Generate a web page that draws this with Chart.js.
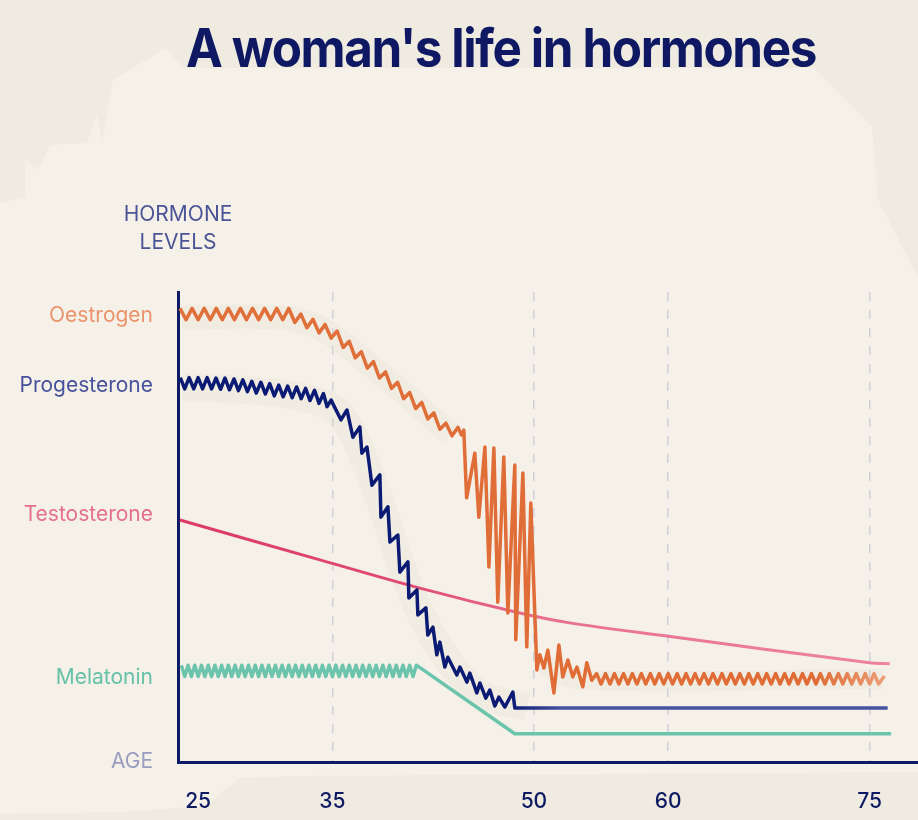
<!DOCTYPE html>
<html>
<head>
<meta charset="utf-8">
<script src="https://cdn.jsdelivr.net/npm/chart.js@4.4.1/dist/chart.umd.min.js"></script>
<style>
  html, body { margin: 0; padding: 0; background: #efebe0; }
  #wrap { position: relative; width: 918px; height: 820px; }
</style>
</head>
<body>
<div id="wrap"><canvas id="chart"></canvas></div>
<script>
const titleText = "A woman's life in hormones";
const ageTicks = [25, 35, 50, 60, 75];
const levelTicks = [0, 17.9, 52.6, 80, 94.9];
const levelNames = ["AGE", "Melatonin", "Testosterone", "Progesterone", "Oestrogen"];
const levelColors = ["#9a9cc0", "#66c1a8", "#e56f8f", "#47519c", "#ea936b"];

// [age, level]
const oestrogen = [
  [23.65, 96.5], [24.1, 94.1], [24.55, 96.5], [25, 94.1], [25.45, 96.5], [25.9, 94.1],
  [26.35, 96.5], [26.8, 94.1], [27.25, 96.5], [27.7, 94.1], [28.15, 96.5], [28.6, 94.1],
  [29.05, 96.5], [29.5, 94.1], [29.95, 96.5], [30.4, 94.1], [30.85, 96.5], [31.3, 94.1],
  [31.75, 96.5], [32.2, 93.5], [32.65, 95.3], [33.1, 92.4], [33.55, 94.2], [34, 91.3],
  [34.45, 93.1], [34.9, 90.2], [35.35, 91.7], [35.8, 88.2], [36.25, 89.5], [36.7, 86.0],
  [37.15, 87.3], [37.6, 83.8], [38.05, 85.2], [38.5, 81.7], [38.95, 83.0], [39.4, 79.5],
  [39.85, 80.8], [40.3, 77.3], [40.75, 78.6], [41.2, 75.2], [41.65, 76.5], [42.1, 73.0],
  [42.55, 74.3], [43, 70.8], [43.45, 72.1], [43.9, 69.4], [44.35, 71.2], [44.6, 69.6],
  [44.78, 70.6], [44.99, 56.2], [45.6, 65.7], [45.9, 52.1], [46.35, 67.0], [46.65, 41.5],
  [47.02, 66.8], [47.31, 34.0], [47.76, 64.9], [48.06, 31.7], [48.58, 63.2], [48.65, 26.0],
  [49.18, 61.5], [49.47, 24.5], [49.77, 55.1], [50.22, 19.6], [50.44, 22.8], [50.74, 20.0],
  [51.04, 23.8], [51.49, 14.7], [51.86, 24.9], [52.15, 18.1], [52.53, 21.7], [52.9, 18.1],
  [53.2, 20.2], [53.64, 16.0], [53.94, 21.1], [54.31, 17.4],
  [54.67, 18.8], [55, 16.6], [55.33, 18.8], [55.67, 16.6], [56, 18.8], [56.33, 16.6],
  [56.67, 18.8], [57, 16.6], [57.33, 18.8], [57.67, 16.6], [58, 18.8], [58.33, 16.6],
  [58.67, 18.8], [59, 16.6], [59.33, 18.8], [59.67, 16.6], [60, 18.8], [60.33, 16.6],
  [60.67, 18.8], [61, 16.6], [61.33, 18.8], [61.67, 16.6], [62, 18.8], [62.33, 16.6],
  [62.67, 18.8], [63, 16.6], [63.33, 18.8], [63.67, 16.6], [64, 18.8], [64.33, 16.6],
  [64.67, 18.8], [65, 16.6], [65.33, 18.8], [65.67, 16.6], [66, 18.8], [66.33, 16.6],
  [66.67, 18.8], [67, 16.6], [67.33, 18.8], [67.67, 16.6], [68, 18.8], [68.33, 16.6],
  [68.67, 18.8], [69, 16.6], [69.33, 18.8], [69.67, 16.6], [70, 18.8], [70.33, 16.6],
  [70.67, 18.8], [71, 16.6], [71.33, 18.8], [71.67, 16.6], [72, 18.8], [72.33, 16.6],
  [72.67, 18.8], [73, 16.6], [73.33, 18.8], [73.67, 16.6], [74, 18.8], [74.33, 16.6],
  [74.67, 18.8], [75, 16.6], [75.33, 18.8], [75.67, 16.6], [76.1, 18.3],
];

const progesterone = [
  [23.67, 81.8], [24, 79.4], [24.33, 81.8], [24.67, 79.4], [25, 81.8], [25.33, 79.4],
  [25.67, 81.8], [26, 79.4], [26.33, 81.7], [26.67, 79.3], [27, 81.7], [27.33, 79.2],
  [27.67, 81.5], [28, 79.0], [28.33, 81.3], [28.67, 78.8], [29, 81.0], [29.33, 78.5],
  [29.67, 80.8], [30, 78.3], [30.33, 80.5], [30.67, 77.9], [31, 80.2], [31.33, 77.7],
  [31.67, 80.0], [32, 77.5], [32.33, 79.8], [32.67, 77.3], [33, 79.5], [33.33, 76.9],
  [33.67, 79.1], [34, 76.3], [34.33, 78.4], [34.6, 75.6], [34.9, 77.0],
  [35.63, 72.8], [36.08, 74.9], [36.52, 69.1], [37.04, 71.3], [37.19, 65.7], [37.57, 67.0],
  [37.94, 58.9], [38.53, 61.1], [38.61, 52.1], [39.13, 54.3], [39.28, 46.8], [39.87, 48.3],
  [40.02, 40.4], [40.62, 42.6], [40.69, 34.9], [41.29, 36.6], [41.36, 31.3], [41.96, 32.8],
  [42.1, 27.0], [42.48, 28.7], [42.77, 22.8], [43, 25.5], [43.37, 20.2], [43.59, 22.3],
  [44.26, 18.5], [44.49, 20.2], [45.01, 17.0], [45.23, 18.9], [45.75, 14.7], [45.98, 16.8],
  [46.42, 13.6], [46.72, 15.3], [47.09, 11.9], [47.39, 13.8], [47.84, 11.7], [48.43, 14.9],
  [48.58, 11.5], [76.34, 11.5],
];

const testosterone = [
  [23.64, 51.5], [34.07, 43.0], [41.51, 37.0], [48.95, 31.7], [52.67, 29.6],
  [59.89, 26.8], [75.0, 21.1], [76.49, 20.9],
];

const melatonin = [
  [23.75, 20.6], [24, 18.2], [24.25, 20.6], [24.5, 18.2], [24.75, 20.6], [25, 18.2],
  [25.25, 20.6], [25.5, 18.2], [25.75, 20.6], [26, 18.2], [26.25, 20.6], [26.5, 18.2],
  [26.75, 20.6], [27, 18.2], [27.25, 20.6], [27.5, 18.2], [27.75, 20.6], [28, 18.2],
  [28.25, 20.6], [28.5, 18.2], [28.75, 20.6], [29, 18.2], [29.25, 20.6], [29.5, 18.2],
  [29.75, 20.6], [30, 18.2], [30.25, 20.6], [30.5, 18.2], [30.75, 20.6], [31, 18.2],
  [31.25, 20.6], [31.5, 18.2], [31.75, 20.6], [32, 18.2], [32.25, 20.6], [32.5, 18.2],
  [32.75, 20.6], [33, 18.2], [33.25, 20.6], [33.5, 18.2], [33.75, 20.6], [34, 18.2],
  [34.25, 20.6], [34.5, 18.2], [34.75, 20.6], [35, 18.2], [35.25, 20.6], [35.5, 18.2],
  [35.75, 20.6], [36, 18.2], [36.25, 20.6], [36.5, 18.2], [36.75, 20.6], [37, 18.2],
  [37.25, 20.6], [37.5, 18.2], [37.75, 20.6], [38, 18.2], [38.25, 20.6], [38.5, 18.2],
  [38.75, 20.6], [39, 18.2], [39.25, 20.6], [39.5, 18.2], [39.75, 20.6], [40, 18.2],
  [40.25, 20.6], [40.5, 18.2], [40.75, 20.6], [41, 18.2], [41.25, 20.6],
  [48.58, 6.0], [76.6, 6.0],
];

// soft shading that follows the trend of the noisy curves
const oestrogenBand = [[23.8, 94.6], [31.7, 94.4], [35, 90.8], [43.8, 69.8]];
const oestrogenTailBand = [[50.6, 21], [53.5, 17.5], [76, 17.7]];
const progesteroneBand = [[23.8, 79.8], [30.7, 78.6], [34.9, 75.6], [36.5, 70], [38.6, 55],
  [40.6, 38], [42.5, 26.5], [44.5, 18.5], [46.5, 13.8], [49.5, 11.8]];

const navy = "#0e1a63";
const bandColor = "rgba(224,218,200,0.22)";
const toXY = (arr) => arr.map(([x, y]) => ({ x, y }));

function hGradient(context, stops) {
  const { ctx, chartArea } = context.chart;
  if (!chartArea) return stops[0][1];
  const g = ctx.createLinearGradient(chartArea.left, 0, chartArea.right, 0);
  stops.forEach(([p, c]) => g.addColorStop(p, c));
  return g;
}

function band(data, width) {
  return {
    data: toXY(data),
    borderColor: bandColor,
    borderWidth: width,
    borderCapStyle: "butt",
    borderJoinStyle: "round",
    tension: 0.3,
    order: 10,
  };
}

const backdrop = {
  id: "backdrop",
  beforeDraw(chart) {
    const ctx = chart.ctx;
    ctx.save();
    ctx.fillStyle = "#efebe0";
    ctx.fillRect(0, 0, chart.width, chart.height);
    ctx.fillStyle = "#f5f1e8";
    ctx.beginPath();
    const pts = [[0, 203], [25, 197], [25, 160], [38, 170], [50, 145], [87, 143], [97, 113],
      [102, 143], [113, 80], [166, 48], [183, 68], [814, 68], [872, 127], [878, 200],
      [918, 277], [918, 772], [300, 776], [240, 778], [205, 806], [120, 812], [0, 814]];
    pts.forEach(([x, y], i) => (i ? ctx.lineTo(x, y) : ctx.moveTo(x, y)));
    ctx.closePath();
    ctx.fill();
    ctx.restore();
  },
  afterDraw(chart) {
    const ctx = chart.ctx;
    ctx.save();
    ctx.fillStyle = "#0f1862";
    ctx.font = "bold 53px Inter";
    ctx.letterSpacing = "-1.5px";
    ctx.textAlign = "center";
    ctx.textBaseline = "alphabetic";
    const w = ctx.measureText(titleText).width;
    ctx.translate(501, 67);
    ctx.scale(630 / w, 1);
    ctx.fillText(titleText, 0, 0);
    ctx.restore();

    ctx.save();
    ctx.fillStyle = "#4a5496";
    ctx.font = "21px Inter";
    ctx.textAlign = "center";
    ctx.textBaseline = "middle";
    ctx.fillText("HORMONE", 178, 215);
    ctx.fillText("LEVELS", 178, 243);
    ctx.restore();
  },
};

new Chart(document.getElementById("chart"), {
  type: "line",
  data: {
    datasets: [
      {
        label: "Oestrogen",
        data: toXY(oestrogen),
        borderColor: (c) => hGradient(c, [[0, "#e0703a"], [0.86, "#e06b35"], [0.95, "#eb9c74"], [1, "#eb9c74"]]),
        borderWidth: 3.5,
        order: 1,
      },
      {
        label: "Progesterone",
        data: toXY(progesterone),
        borderColor: (c) => hGradient(c, [[0, "#0b1b74"], [0.45, "#0b1b74"], [0.52, "#4651a0"], [1, "#4651a0"]]),
        borderWidth: 3.5,
        order: 2,
      },
      {
        label: "Testosterone",
        data: toXY(testosterone),
        borderColor: (c) => hGradient(c, [[0, "#dc3a64"], [0.3, "#e04a72"], [0.5, "#e9708f"], [1, "#ee85a0"]]),
        borderWidth: 3,
        tension: 0.35,
        order: 3,
      },
      {
        label: "Melatonin",
        data: toXY(melatonin),
        borderColor: "#6dc4ad",
        borderWidth: 3.5,
        order: 4,
      },
      band(oestrogenBand, 24),
      band(oestrogenTailBand, 20),
      band(progesteroneBand, 28),
    ],
  },
  options: {
    responsive: true,
    maintainAspectRatio: false,
    animation: false,
    elements: {
      point: { radius: 0 },
      line: { tension: 0, borderJoinStyle: "round", borderCapStyle: "butt" },
    },
    layout: { autoPadding: false, padding: { top: 292, right: 0, bottom: 0, left: 0 } },
    plugins: {
      legend: { display: false },
      tooltip: { enabled: false },
    },
    scales: {
      x: {
        type: "linear",
        min: 23.5,
        max: 78.6,
        afterFit: (axis) => { axis.height = 58; },
        afterBuildTicks: (axis) => { axis.ticks = ageTicks.map((v) => ({ value: v })); },
        ticks: {
          color: navy,
          padding: 27,
          font: { family: "Inter", size: 21, weight: 500 },
          callback: (v) => v,
        },
        grid: {
          drawTicks: false,
          lineWidth: 1.5,
          color: (c) => (c.tick && c.tick.value === 25 ? "rgba(0,0,0,0)" : "#d0d0da"),
        },
        border: { color: navy, width: 3, dash: [9, 9] },
      },
      y: {
        min: 0,
        max: 100,
        afterFit: (axis) => { axis.width = 178; },
        afterBuildTicks: (axis) => { axis.ticks = levelTicks.map((v) => ({ value: v })); },
        ticks: {
          padding: 25,
          font: { family: "Inter", size: 21 },
          color: (c) => levelColors[c.index],
          callback: (v, i) => levelNames[i],
        },
        grid: { display: false, drawTicks: false },
        border: { color: navy, width: 3 },
      },
    },
  },
  plugins: [backdrop],
});
</script>
</body>
</html>
